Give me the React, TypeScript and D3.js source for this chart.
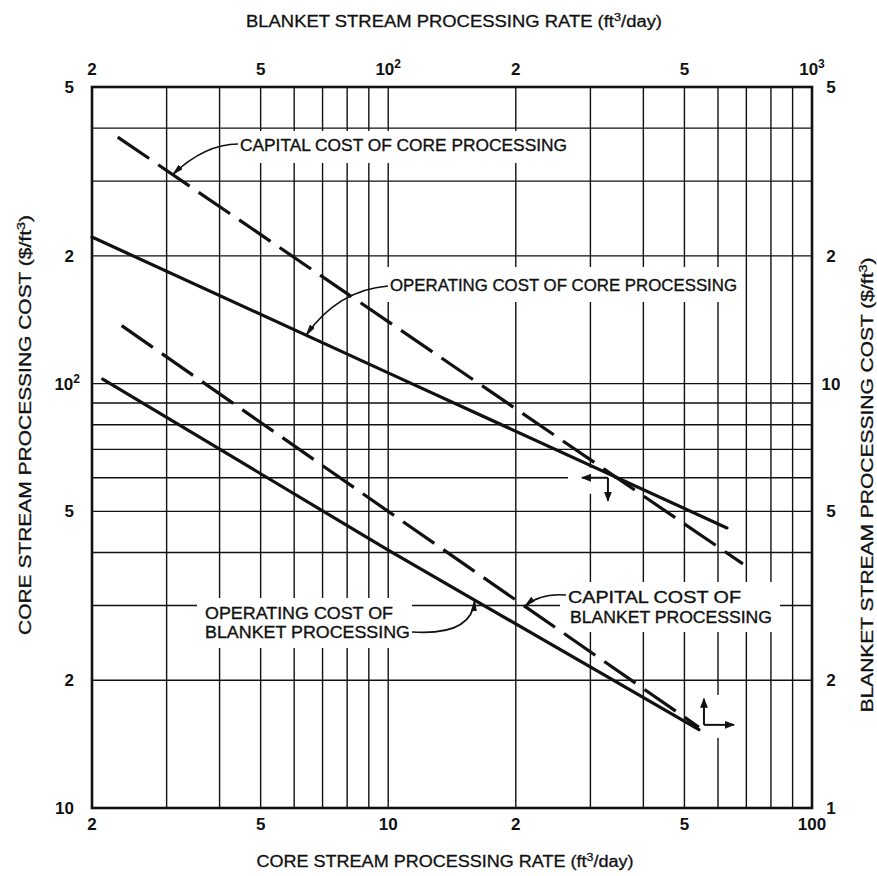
import React from "react";
import * as d3 from "d3";

const W = 877;
const H = 876;
const PLOT = { left: 92, right: 812, top: 87, bottom: 808 };

// grid values (core units; blanket axes are the same lines x10 / /10)
const coreRateGrid = [2, 3, 4, 5, 6, 7, 8, 9, 10, 20, 30, 40, 50, 60, 70, 80, 90, 100];
const coreCostGrid = [10, 20, 30, 40, 50, 60, 70, 80, 90, 100, 200, 300, 400, 500];

// tick labels
const coreRateTicks = [2, 5, 10, 20, 50, 100];
const coreRateTickLabels = ["2", "5", "10", "2", "5", "100"];
const blanketRateTicks = [20, 50, 100, 200, 500, 1000];
const blanketRateTickBase = ["2", "5", "10", "2", "5", "10"];
const blanketRateTickSup = ["", "", "2", "", "", "3"];
const coreCostTicks = [10, 20, 50, 100, 200, 500];
const coreCostTickBase = ["10", "2", "5", "10", "2", "5"];
const coreCostTickSup = ["", "", "", "2", "", ""];
const blanketCostTicks = [1, 2, 5, 10, 20, 50];
const blanketCostTickLabels = ["1", "2", "5", "10", "2", "5"];

// series (core: bottom/left axes, blanket: top/right axes)
const coreCapitalRate = [2.3, 10, 68.7];
const coreCapitalCost = [381, 140, 37.6];
const coreOperatingRate = [2.0, 10, 63.0];
const coreOperatingCost = [221.5, 106, 45.7];
const blanketCapitalRate = [23.5, 100, 541];
const blanketCapitalCost = [13.7, 5.0, 1.55];
const blanketOperatingRate = [21.2, 100, 541];
const blanketOperatingCost = [10.25, 4.05, 1.53];

const FONT = "'Liberation Sans', Arial, Helvetica, sans-serif";
const INK = "#111";

function onLine(xs: number[], ys: number[], xv: number): number {
  const lx = Math.log(xv);
  for (let i = 0; i < xs.length - 1; i++) {
    const a = Math.log(xs[i]);
    const b = Math.log(xs[i + 1]);
    if ((lx >= a && lx <= b) || i === xs.length - 2) {
      const t = (lx - a) / (b - a);
      return Math.exp(Math.log(ys[i]) + t * (Math.log(ys[i + 1]) - Math.log(ys[i])));
    }
  }
  return ys[0];
}

export default function App() {
  const x = d3.scaleLog().domain([2, 100]).range([PLOT.left, PLOT.right]);
  const y = d3.scaleLog().domain([10, 500]).range([PLOT.bottom, PLOT.top]);
  const xb = d3.scaleLog().domain([20, 1000]).range([PLOT.left, PLOT.right]);
  const yb = d3.scaleLog().domain([1, 50]).range([PLOT.bottom, PLOT.top]);

  const coreLine = d3
    .line<[number, number]>()
    .x((d) => x(d[0]))
    .y((d) => y(d[1]));
  const blanketLine = d3
    .line<[number, number]>()
    .x((d) => xb(d[0]))
    .y((d) => yb(d[1]));

  const zip = (a: number[], b: number[]) => a.map((v, i) => [v, b[i]] as [number, number]);

  // leader tips on the curves
  const t1x = x(3.1), t1y = y(onLine(coreCapitalRate, coreCapitalCost, 3.1));
  const t2x = x(6.4), t2y = y(onLine(coreOperatingRate, coreOperatingCost, 6.4));
  const t3x = xb(160), t3y = yb(onLine(blanketOperatingRate, blanketOperatingCost, 160));
  const t4x = xb(210), t4y = yb(onLine(blanketCapitalRate, blanketCapitalCost, 210));

  // corner arrows anchors
  const ca = { x: x(33), y: y(60) };
  const ba = { x: xb(556), y: yb(1.57) };

  const annStyle = { fontFamily: FONT, fontSize: 17, fill: INK, stroke: INK, strokeWidth: 0.35 } as const;

  return (
    <svg width={W} height={H} viewBox={`0 0 ${W} ${H}`} style={{ display: "block", position: "absolute", left: 0, top: 0, background: "#fff" }}>
      <defs>
        <marker id="ah" viewBox="0 0 12 6" refX="11" refY="3" markerWidth="12" markerHeight="6" markerUnits="userSpaceOnUse" orient="auto">
          <path d="M0,0 L12,3 L0,6 z" fill={INK} />
        </marker>
        <marker id="ah2" viewBox="0 0 10 8" refX="9" refY="4" markerWidth="10" markerHeight="8" markerUnits="userSpaceOnUse" orient="auto">
          <path d="M0,0 L10,4 L0,8 z" fill={INK} />
        </marker>
      </defs>
      <rect x={0} y={0} width={W} height={H} fill="#fff" />

      {/* grid */}
      <g stroke={INK} strokeWidth={1.4}>
        {coreRateGrid.map((v) => (
          <line key={"gx" + v} x1={x(v)} x2={x(v)} y1={PLOT.top} y2={PLOT.bottom} />
        ))}
        {coreCostGrid.map((v) => (
          <line key={"gy" + v} x1={PLOT.left} x2={PLOT.right} y1={y(v)} y2={y(v)} />
        ))}
      </g>

      {/* label knock-outs */}
      <g fill="#fff">
        <rect x={233} y={131} width={345} height={32} />
        <rect x={383} y={267} width={362} height={35} />
        <rect x={197} y={598} width={215} height={50} />
        <rect x={560} y={582} width={220} height={50} />
        <rect x={ca.x - 40} y={ca.y - 10} width={46} height={26} />
        <rect x={ba.x - 9} y={ba.y - 30} width={38} height={43} />
      </g>

      {/* border */}
      <rect x={PLOT.left} y={PLOT.top} width={PLOT.right - PLOT.left} height={PLOT.bottom - PLOT.top} fill="none" stroke={INK} strokeWidth={2.6} />

      {/* curves */}
      <g fill="none" stroke={INK} strokeWidth={3.2} strokeLinecap="round">
        <path d={coreLine(zip(coreCapitalRate, coreCapitalCost)) || ""} strokeDasharray="38 11" strokeLinecap="butt" />
        <path d={coreLine(zip(coreOperatingRate, coreOperatingCost)) || ""} />
        <path d={blanketLine(zip(blanketCapitalRate, blanketCapitalCost)) || ""} strokeDasharray="38 11" strokeLinecap="butt" />
        <path d={blanketLine(zip(blanketOperatingRate, blanketOperatingCost)) || ""} />
      </g>

      {/* leaders */}
      <g fill="none" stroke={INK} strokeWidth={1.7}>
        <path d={`M238,144 Q205,144 ${t1x},${t1y}`} markerEnd="url(#ah)" />
        <path d={`M388,286 Q338,290 ${t2x},${t2y}`} markerEnd="url(#ah)" />
        <path d={`M412,632 Q472,636 ${t3x},${t3y}`} markerEnd="url(#ah)" />
        <path d={`M566,595 Q540,593 ${t4x},${t4y}`} markerEnd="url(#ah)" />
      </g>

      {/* corner arrows */}
      <g fill="none" stroke={INK} strokeWidth={2}>
        <path d={`M${ca.x},${ca.y} L${ca.x - 26},${ca.y}`} markerEnd="url(#ah2)" />
        <path d={`M${ca.x},${ca.y} L${ca.x},${ca.y + 23}`} markerEnd="url(#ah2)" />
        <path d={`M${ba.x},${ba.y} L${ba.x},${ba.y - 26}`} markerEnd="url(#ah2)" />
        <path d={`M${ba.x},${ba.y} L${ba.x + 30},${ba.y}`} markerEnd="url(#ah2)" />
      </g>

      {/* annotations */}
      <text x={240} y={151} textLength={327} lengthAdjust="spacingAndGlyphs" style={annStyle}>CAPITAL COST OF CORE PROCESSING</text>
      <text x={390} y={291} textLength={347} lengthAdjust="spacingAndGlyphs" style={annStyle}>OPERATING COST OF CORE PROCESSING</text>
      <text x={205} y={619} textLength={188} lengthAdjust="spacingAndGlyphs" style={annStyle}>OPERATING COST OF</text>
      <text x={205} y={638} textLength={205} lengthAdjust="spacingAndGlyphs" style={annStyle}>BLANKET PROCESSING</text>
      <text x={568} y={603} textLength={173} lengthAdjust="spacingAndGlyphs" style={annStyle}>CAPITAL COST OF</text>
      <text x={570} y={623} textLength={202} lengthAdjust="spacingAndGlyphs" style={annStyle}>BLANKET PROCESSING</text>

      {/* tick labels */}
      <g style={{ fontFamily: FONT, fontSize: 17, fontWeight: 700, fill: INK }}>
        {coreRateTicks.map((v, i) => (
          <text key={"bt" + v} x={x(v)} y={830} textAnchor="middle">{coreRateTickLabels[i]}</text>
        ))}
        {blanketRateTicks.map((v, i) => (
          <text key={"tt" + v} x={xb(v)} y={75} textAnchor="middle">
            {blanketRateTickBase[i]}
            {blanketRateTickSup[i] ? (
              <tspan dy={-7} fontSize={12}>{blanketRateTickSup[i]}</tspan>
            ) : null}
          </text>
        ))}
        {coreCostTicks.map((v, i) => (
          <text key={"lt" + v} x={coreCostTickSup[i] ? 80 : 74} y={y(v) + 6} textAnchor="end">
            {coreCostTickBase[i]}
            {coreCostTickSup[i] ? (
              <tspan dy={-7} fontSize={12}>{coreCostTickSup[i]}</tspan>
            ) : null}
          </text>
        ))}
        {blanketCostTicks.map((v, i) => (
          <text key={"rt" + v} x={831} y={yb(v) + 6} textAnchor="middle">{blanketCostTickLabels[i]}</text>
        ))}
      </g>

      {/* axis titles */}
      <g style={{ fontFamily: FONT, fontSize: 16, fill: INK, stroke: INK, strokeWidth: 0.3 }}>
        <text x={454} y={27} textAnchor="middle" textLength={416} lengthAdjust="spacingAndGlyphs">
          BLANKET STREAM PROCESSING RATE (ft<tspan dy={-6} fontSize={11}>3</tspan><tspan dy={6}>/day)</tspan>
        </text>
        <text x={445} y={867} textAnchor="middle" textLength={377} lengthAdjust="spacingAndGlyphs">
          CORE STREAM PROCESSING RATE (ft<tspan dy={-6} fontSize={11}>3</tspan><tspan dy={6}>/day)</tspan>
        </text>
        <text transform="translate(31,425) rotate(-90)" textAnchor="middle" textLength={420} lengthAdjust="spacingAndGlyphs">
          CORE STREAM PROCESSING COST ($/ft<tspan dy={-6} fontSize={11}>3</tspan><tspan dy={6}>)</tspan>
        </text>
        <text transform="translate(873,485) rotate(-90)" textAnchor="middle" textLength={455} lengthAdjust="spacingAndGlyphs">
          BLANKET STREAM PROCESSING COST ($/ft<tspan dy={-6} fontSize={11}>3</tspan><tspan dy={6}>)</tspan>
        </text>
      </g>
    </svg>
  );
}
